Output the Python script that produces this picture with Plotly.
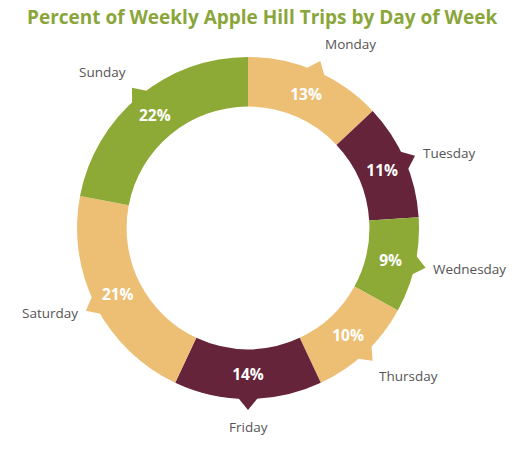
import math
import plotly.graph_objects as go

days = ["Monday", "Tuesday", "Wednesday", "Thursday", "Friday", "Saturday", "Sunday"]
shares = [13, 11, 9, 10, 14, 21, 22]
colors = ["#EDBF75", "#66243B", "#8EAA36", "#EDBF75", "#66243B", "#EDBF75", "#8EAA36"]

W, H = 529, 449
cx, cy, R = 248, 228, 171  # pixel geometry of the donut


def px2paper(x, y):
    return x / W, 1 - y / H


fig = go.Figure(go.Pie(
    labels=days,
    values=shares,
    sort=False,
    direction="clockwise",
    hole=0.71,
    marker=dict(colors=colors, line=dict(width=0)),
    texttemplate="%{value}%",
    textposition="inside",
    insidetextorientation="horizontal",
    textfont=dict(family="Open Sans", size=15.5, color="white", weight="bold"),
    domain=dict(x=[(cx - R) / W, (cx + R) / W], y=[1 - (cy + R) / H, 1 - (cy - R) / H]),
    showlegend=False,
    hoverinfo="label+value",
))

total = sum(shares)
cum = 0
annotations = []
shapes = []
r_lab = 188
for d, v, col in zip(days, shares, colors):
    mid = (cum + v / 2) / total * 2 * math.pi
    cum += v
    s, c = math.sin(mid), math.cos(mid)
    lx, ly = px2paper(cx + r_lab * s, cy - r_lab * c)
    xa = "left" if s > 0.3 else ("right" if s < -0.3 else "center")
    ya = "bottom" if c > 0.5 else ("top" if c < -0.5 else "middle")
    annotations.append(dict(
        x=lx, y=ly, xref="paper", yref="paper",
        text=d, showarrow=False, xanchor=xa, yanchor=ya,
        font=dict(family="Open Sans", size=13.5, color="#555555"),
    ))
    pts = []
    for ang, rad in [(mid - 0.07, R - 3), (mid, R + 11), (mid + 0.07, R - 3)]:
        pts.append((cx + rad * math.sin(ang), cy - rad * math.cos(ang)))
    path = "M {:.2f} {:.2f} L {:.2f} {:.2f} L {:.2f} {:.2f} Z".format(
        pts[0][0], pts[0][1], pts[1][0], pts[1][1], pts[2][0], pts[2][1])
    shapes.append(dict(type="path", path=path, xref="x", yref="y",
                       fillcolor=col, line=dict(width=0), layer="below"))

annotations.append(dict(
    x=262 / W, y=1 - 17 / H, xref="paper", yref="paper",
    text="Percent of Weekly Apple Hill Trips by Day of Week",
    showarrow=False, xanchor="center", yanchor="middle",
    font=dict(family="Open Sans", size=19, color="#8AA63A", weight="bold"),
))

fig.update_layout(
    width=W, height=H,
    margin=dict(l=0, r=0, t=0, b=0),
    paper_bgcolor="white",
    plot_bgcolor="white",
    annotations=annotations,
    shapes=shapes,
    xaxis=dict(range=[0, W], visible=False, fixedrange=True),
    yaxis=dict(range=[H, 0], visible=False, fixedrange=True),
)

fig.write_html("out.html", config={"displayModeBar": False},
               post_script="document.body.style.margin='0';document.body.style.overflow='hidden';")
